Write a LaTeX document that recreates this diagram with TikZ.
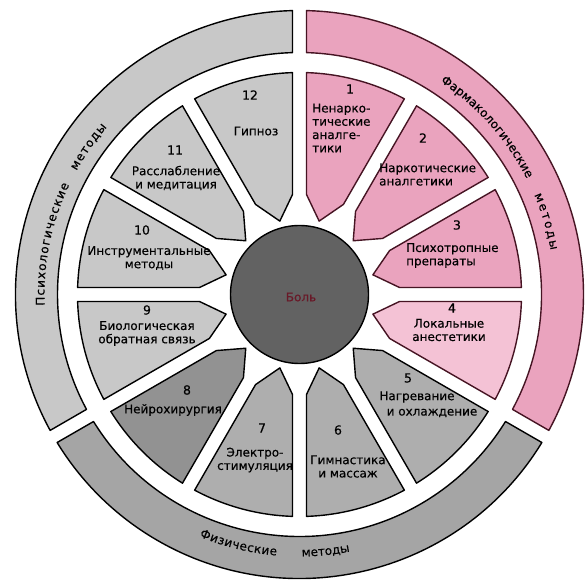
\documentclass[tikz,border=0pt]{standalone}
\usepackage{fontspec}
\setmainfont{DejaVu Sans}
\newfontfamily\lblfont{DejaVu Sans}[FakeBold=0.4]
\usetikzlibrary{decorations.text}
\definecolor{pinkA}{RGB}{234,163,190}
\definecolor{pinkB}{RGB}{244,194,213}
\definecolor{pinkLine}{RGB}{70,20,35}
\definecolor{grayL}{RGB}{200,200,200}
\definecolor{grayP}{RGB}{174,174,174}
\definecolor{grayD}{RGB}{146,146,146}
\definecolor{ringPhys}{RGB}{165,165,165}
\definecolor{coreGray}{RGB}{98,98,98}
\definecolor{painRed}{RGB}{105,25,40}
\begin{document}
\begin{tikzpicture}[x=1pt,y=1pt,
  shapeline/.style={line width=1.4pt, line join=round},
  lbl/.style={font=\lblfont\fontsize{12}{13.3}\selectfont, inner sep=0pt, align=center},
  num/.style={font=\lblfont\fontsize{12.5}{14}\selectfont, inner sep=0pt},
  ringtext/.style={decorate, decoration={text along path, text align=fit to path, text={|\lblfont\fontsize{12}{14}\selectfont|#1}}}
]
\useasboundingbox (0,0) rectangle (587,582);
\fill[white] (0,0) rectangle (587,582);
\begin{scope}[shift={(299.5,287.5)}]
  % outer rings
  \draw[shapeline, draw=pinkLine, fill=pinkA]
    (88.59:284pt) arc[start angle=88.59, end angle=-28.59, radius=284pt]
    -- (-28.34:242pt) arc[start angle=-28.34, end angle=88.34, radius=242pt] -- cycle;
  \draw[shapeline, fill=ringPhys]
    (-31.41:284pt) arc[start angle=-31.41, end angle=-148.59, radius=284pt]
    -- (-148.34:242pt) arc[start angle=-148.34, end angle=-31.66, radius=242pt] -- cycle;
  \draw[shapeline, fill=grayL]
    (208.59:284pt) arc[start angle=208.59, end angle=91.41, radius=284pt]
    -- (91.66:242pt) arc[start angle=91.66, end angle=208.34, radius=242pt] -- cycle;
  % segments
  \foreach \m/\c/\l in {75/pinkA/pinkLine, 45/pinkA/pinkLine, 15/pinkA/pinkLine, -15/pinkB/pinkLine,
                        -45/grayP/black, -75/grayP/black, -105/grayP/black, -135/grayD/black,
                        -165/grayL/black, 165/grayL/black, 135/grayL/black, 105/grayL/black}
    \draw[shapeline, draw=\l, fill=\c, rotate=\m]
      (0:76pt) -- (11:100.25pt) -- (13.19:222pt)
      arc[start angle=13.19, end angle=-13.19, radius=222pt]
      -- (-11:100.25pt) -- cycle;
  % core
  \draw[shapeline, fill=coreGray] (0,0) circle[radius=69pt];
  % ring texts
  \path[ringtext={Психологические}] (182.5:255pt) arc[start angle=182.5, end angle=154.5, radius=255pt];
  \path[ringtext={методы}] (151:255pt) arc[start angle=151, end angle=139, radius=255pt];
  \path[ringtext={Фармакологические}] (56.5:255pt) arc[start angle=56.5, end angle=27, radius=255pt];
  \path[ringtext={методы}] (23:255pt) arc[start angle=23, end angle=10, radius=255pt];
  \path[ringtext={Физические}] (-112.5:262pt) arc[start angle=-112.5, end angle=-95, radius=262pt];
  \path[ringtext={методы}] (-89.5:262pt) arc[start angle=-89.5, end angle=-79.5, radius=262pt];
\end{scope}
% center label
\node[lbl, text=painRed] (pain) at (301,285) {Боль};
% 1
\node[num] (n1) at (350,493) {1};
\node[lbl, align=left, anchor=west] (t1) at (312,454) {Ненарко-\\тические\\аналге-\\тики};
% 2
\node[num] (n2) at (423,444) {2};
\node[lbl, align=left, anchor=west] (t2) at (379,407.5) {Наркотические\\аналгетики};
% 3
\node[num] (n3) at (457,357) {3};
\node[lbl, align=left, anchor=west] (t3) at (406,326.5) {Психотропные\\препараты};
% 4
\node[num] (n4) at (452,274) {4};
\node[lbl] (t4) at (449,252) {Локальные\\анестетики};
% 5
\node[num] (n5) at (408,204) {5};
\node[lbl] (t5a) at (417,185) {Нагревание};
\node[lbl] (t5b) at (432,169) {и охлаждение};
% 6
\node[num] (n6) at (338,152) {6};
\node[lbl] (t6) at (348,115.5) {Гимнастика\\и массаж};
% 7
\node[num] (n7) at (262,154) {7};
\node[lbl] (t7) at (255,122) {Электро-\\стимуляция};
% 8
\node[num] (n8) at (187,192) {8};
\node[lbl] (t8) at (173,172) {Нейрохирургия};
% 9
\node[num] (n9) at (147,272) {9};
\node[lbl] (t9) at (147,248.5) {Биологическая\\обратная связь};
% 10
\node[num] (n10) at (142,352) {10};
\node[lbl] (t10) at (149,324) {Инструментальные\\методы};
% 11
\node[num] (n11) at (175,432) {11};
\node[lbl] (t11) at (176,404) {Расслабление\\и медитация};
% 12
\node[num] (n12) at (250,487) {12};
\node[lbl] (t12) at (256,451) {Гипноз};
\end{tikzpicture}
\end{document}
